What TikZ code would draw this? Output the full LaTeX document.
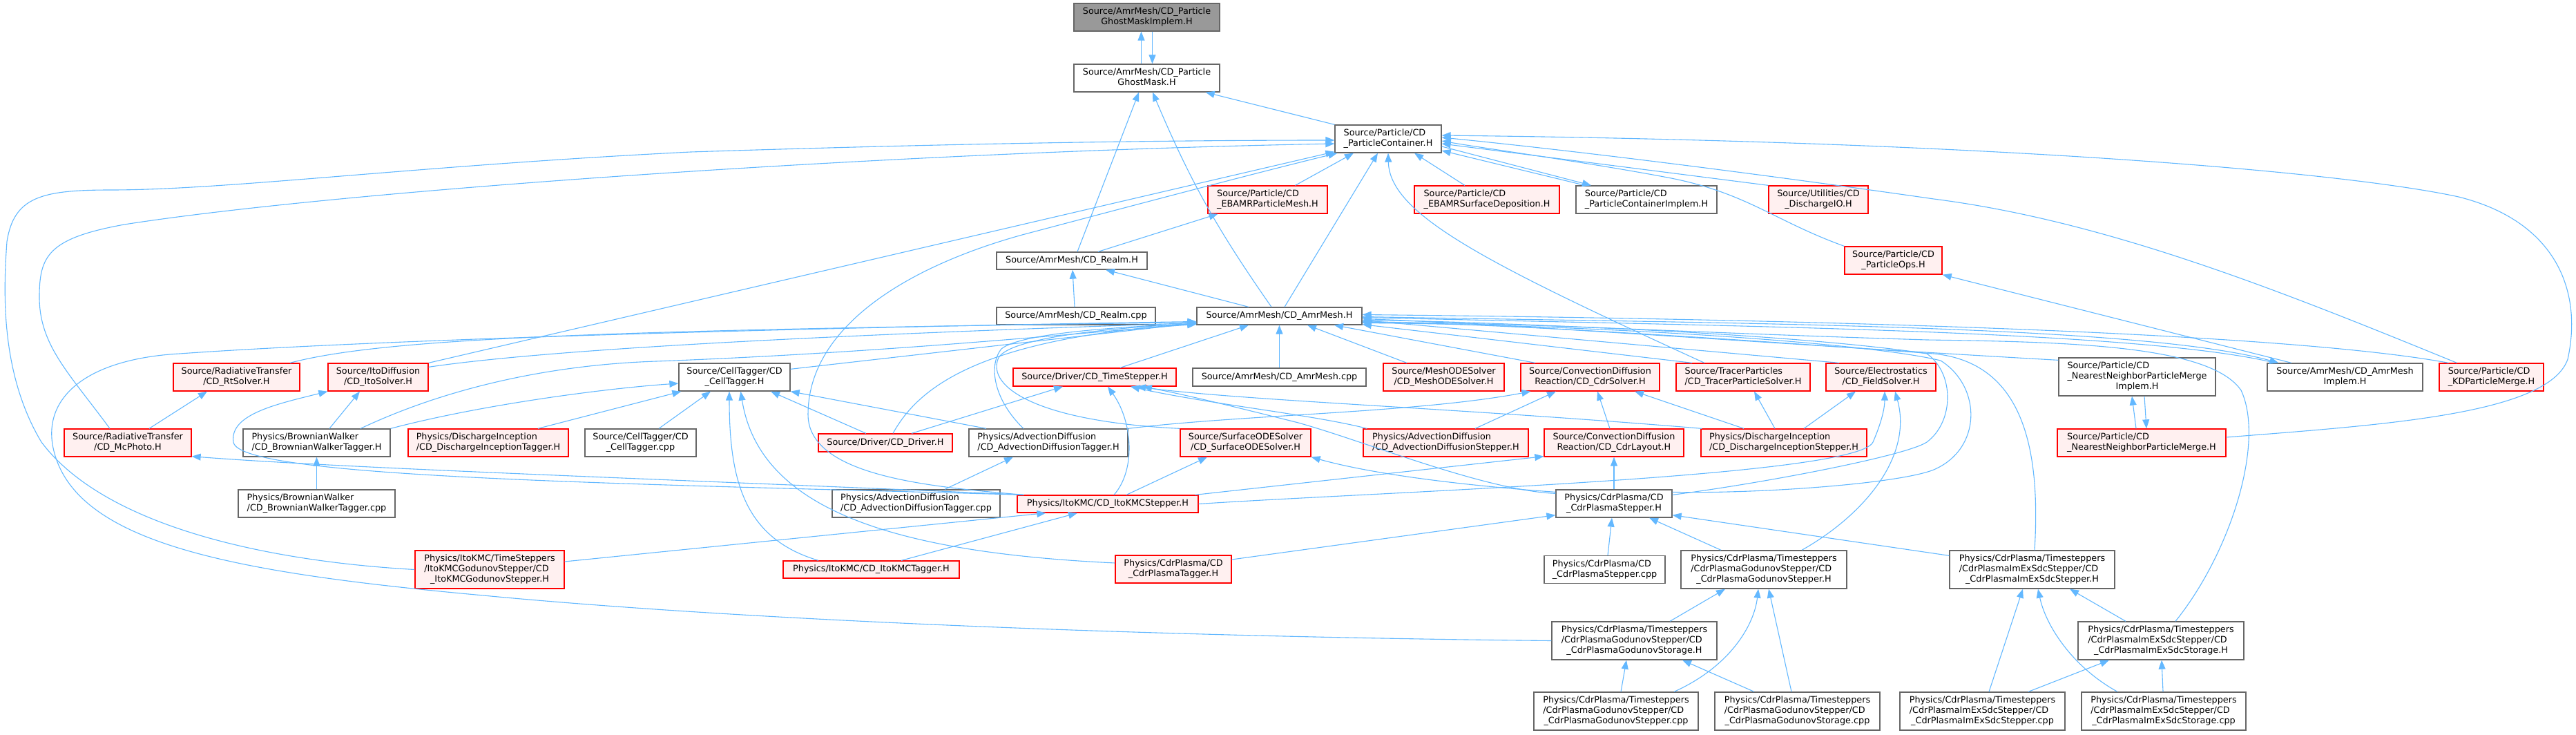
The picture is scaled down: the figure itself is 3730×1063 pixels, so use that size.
\documentclass[tikz,border=0pt]{standalone}
\usepackage{fontspec}
\newfontfamily\dxfont{DejaVu Sans}
\usetikzlibrary{arrows.meta}

\definecolor{edgeblue}{HTML}{63B8FF}
\definecolor{boxgray}{HTML}{666666}
\definecolor{rootfill}{HTML}{999999}
\definecolor{redfill}{HTML}{FFF0F0}
\definecolor{redline}{HTML}{FF0000}

% label: upper lines flush left, last line centred
\newcommand{\lbl}[2]{\begin{tabular}{@{}l@{}}#1\\\multicolumn{1}{@{}c@{}}{#2}\end{tabular}}

\tikzset{
  file/.style={draw=boxgray, fill=white, line width=1.3pt, inner sep=0pt,
    minimum height=40pt, font=\dxfont\fontsize{12.8}{15}\selectfont},
  hot/.style={file, draw=redline, fill=redfill},
  root/.style={file, fill=rootfill},
  one/.style={minimum height=25pt},
  three/.style={minimum height=55pt},
  inc/.style={draw=edgeblue, line width=1.1pt, -{Triangle[length=13pt,width=10pt]}},
}

\begin{document}
\begin{tikzpicture}[x=1pt,y=-1pt]
\useasboundingbox (0,0) rectangle (3730,1063);

% files
\node[root, minimum width=211pt] (gmi) at (1660.5,25) {\lbl{Source/AmrMesh/CD\_Particle}{GhostMaskImplem.H}};
\node[file, minimum width=211pt] (gm) at (1660.5,113) {\lbl{Source/AmrMesh/CD\_Particle}{GhostMask.H}};
\node[file, minimum width=154pt] (pc) at (2010,201) {\lbl{Source/Particle/CD}{\_ParticleContainer.H}};
\node[hot, minimum width=173pt] (ebpm) at (1835.5,289) {\lbl{Source/Particle/CD}{\_EBAMRParticleMesh.H}};
\node[hot, minimum width=210pt] (ebsd) at (2153,289) {\lbl{Source/Particle/CD}{\_EBAMRSurfaceDeposition.H}};
\node[file, minimum width=204pt] (pcimp) at (2384,289) {\lbl{Source/Particle/CD}{\_ParticleContainerImplem.H}};
\node[hot, minimum width=144pt] (dio) at (2633,289) {\lbl{Source/Utilities/CD}{\_DischargeIO.H}};
\node[hot, minimum width=141pt] (pops) at (2741.5,377) {\lbl{Source/Particle/CD}{\_ParticleOps.H}};
\node[file, one, minimum width=218pt] (realmh) at (1552,377.5) {Source/AmrMesh/CD\_Realm.H};
\node[file, one, minimum width=230pt] (realmcpp) at (1558,457.5) {Source/AmrMesh/CD\_Realm.cpp};
\node[file, one, minimum width=239pt] (amrh) at (1852.5,457.5) {Source/AmrMesh/CD\_AmrMesh.H};

\node[hot, minimum width=183pt] (rts) at (342.5,546) {\lbl{Source/RadiativeTransfer}{/CD\_RtSolver.H}};
\node[hot, minimum width=145pt] (itos) at (547.5,546) {\lbl{Source/ItoDiffusion}{/CD\_ItoSolver.H}};
\node[file, minimum width=161pt] (cth) at (1063.5,546) {\lbl{Source/CellTagger/CD}{\_CellTagger.H}};
\node[hot, one, minimum width=236pt, minimum height=26pt] (tsh) at (1585,546) {Source/Driver/CD\_TimeStepper.H};
\node[file, one, minimum width=251pt, minimum height=26pt] (amrcpp) at (1852.5,546) {Source/AmrMesh/CD\_AmrMesh.cpp};
\node[hot, minimum width=175pt] (meshode) at (2090.5,546) {\lbl{Source/MeshODESolver}{/CD\_MeshODESolver.H}};
\node[hot, minimum width=201pt] (cdrs) at (2302.5,546) {\lbl{Source/ConvectionDiffusion}{Reaction/CD\_CdrSolver.H}};
\node[hot, minimum width=194pt] (tracer) at (2524,546) {\lbl{Source/TracerParticles}{/CD\_TracerParticleSolver.H}};
\node[hot, minimum width=159pt] (field) at (2723.5,546) {\lbl{Source/Electrostatics}{/CD\_FieldSolver.H}};
\node[file, three, minimum width=227pt] (nnpmi) at (3094.5,545.5) {\lbl{Source/Particle/CD\\\_NearestNeighborParticleMerge}{Implem.H}};
\node[file, minimum width=225pt] (amrimp) at (3395.5,546) {\lbl{Source/AmrMesh/CD\_AmrMesh}{Implem.H}};
\node[hot, minimum width=151pt] (kd) at (3607.5,546) {\lbl{Source/Particle/CD}{\_KDParticleMerge.H}};

\node[hot, minimum width=184pt] (mcp) at (185,641) {\lbl{Source/RadiativeTransfer}{/CD\_McPhoto.H}};
\node[file, minimum width=213pt] (bwth) at (458.5,641) {\lbl{Physics/BrownianWalker}{/CD\_BrownianWalkerTagger.H}};
\node[hot, minimum width=232pt] (dit) at (707,641) {\lbl{Physics/DischargeInception}{/CD\_DischargeInceptionTagger.H}};
\node[file, minimum width=161pt] (ctcpp) at (927.5,641) {\lbl{Source/CellTagger/CD}{\_CellTagger.cpp}};
\node[hot, one, minimum width=194pt, minimum height=26pt] (drv) at (1282,641) {Source/Driver/CD\_Driver.H};
\node[file, minimum width=230pt] (adt) at (1518,641) {\lbl{Physics/AdvectionDiffusion}{/CD\_AdvectionDiffusionTagger.H}};
\node[hot, minimum width=189pt] (sode) at (1803.5,641) {\lbl{Source/SurfaceODESolver}{/CD\_SurfaceODESolver.H}};
\node[hot, minimum width=239pt] (ads) at (2093.5,641) {\lbl{Physics/AdvectionDiffusion}{/CD\_AdvectionDiffusionStepper.H}};
\node[hot, minimum width=202pt] (cdrl) at (2337,641) {\lbl{Source/ConvectionDiffusion}{Reaction/CD\_CdrLayout.H}};
\node[hot, minimum width=240pt] (dis) at (2583,641) {\lbl{Physics/DischargeInception}{/CD\_DischargeInceptionStepper.H}};
\node[hot, minimum width=244pt] (nnpm) at (3101,641) {\lbl{Source/Particle/CD}{\_NearestNeighborParticleMerge.H}};

\node[file, minimum width=227pt] (bwtcpp) at (458.5,729) {\lbl{Physics/BrownianWalker}{/CD\_BrownianWalkerTagger.cpp}};
\node[file, minimum width=243pt] (adtcpp) at (1326.5,729) {\lbl{Physics/AdvectionDiffusion}{/CD\_AdvectionDiffusionTagger.cpp}};
\node[hot, one, minimum width=262pt] (iks) at (1604,729.5) {Physics/ItoKMC/CD\_ItoKMCStepper.H};
\node[file, minimum width=168pt] (cps) at (2337,729) {\lbl{Physics/CdrPlasma/CD}{\_CdrPlasmaStepper.H}};

\node[hot, three, minimum width=216pt] (ikgs) at (709,824.5) {\lbl{Physics/ItoKMC/TimeSteppers\\/ItoKMCGodunovStepper/CD}{\_ItoKMCGodunovStepper.H}};
\node[hot, one, minimum width=255pt] (ikt) at (1261.5,824.5) {Physics/ItoKMC/CD\_ItoKMCTagger.H};
\node[hot, minimum width=168pt] (cpt) at (1699,824) {\lbl{Physics/CdrPlasma/CD}{\_CdrPlasmaTagger.H}};
\node[file, minimum width=175pt] (cpscpp) at (2323.5,824.5) {\lbl{Physics/CdrPlasma/CD}{\_CdrPlasmaStepper.cpp}};
\node[file, three, minimum width=240pt] (gsh) at (2554,824.5) {\lbl{Physics/CdrPlasma/Timesteppers\\/CdrPlasmaGodunovStepper/CD}{\_CdrPlasmaGodunovStepper.H}};
\node[file, three, minimum width=239pt] (ish) at (2942.5,824.5) {\lbl{Physics/CdrPlasma/Timesteppers\\/CdrPlasmaImExSdcStepper/CD}{\_CdrPlasmaImExSdcStepper.H}};

\node[file, three, minimum width=239pt] (gsto) at (2366.5,927.5) {\lbl{Physics/CdrPlasma/Timesteppers\\/CdrPlasmaGodunovStepper/CD}{\_CdrPlasmaGodunovStorage.H}};
\node[file, three, minimum width=240pt] (isto) at (3129,927.5) {\lbl{Physics/CdrPlasma/Timesteppers\\/CdrPlasmaImExSdcStepper/CD}{\_CdrPlasmaImExSdcStorage.H}};

\node[file, three, minimum width=238pt] (gscpp) at (2340,1029.5) {\lbl{Physics/CdrPlasma/Timesteppers\\/CdrPlasmaGodunovStepper/CD}{\_CdrPlasmaGodunovStepper.cpp}};
\node[file, three, minimum width=239pt] (gstocpp) at (2602.5,1029.5) {\lbl{Physics/CdrPlasma/Timesteppers\\/CdrPlasmaGodunovStepper/CD}{\_CdrPlasmaGodunovStorage.cpp}};
\node[file, three, minimum width=239pt] (iscpp) at (2870.5,1029.5) {\lbl{Physics/CdrPlasma/Timesteppers\\/CdrPlasmaImExSdcStepper/CD}{\_CdrPlasmaImExSdcStepper.cpp}};
\node[file, three, minimum width=238pt] (istocpp) at (3133,1029.5) {\lbl{Physics/CdrPlasma/Timesteppers\\/CdrPlasmaImExSdcStepper/CD}{\_CdrPlasmaImExSdcStorage.cpp}};

% top of the graph
\draw[inc] ([xshift=-8pt]gm.north) -- ([xshift=-8pt]gmi.south);
\draw[inc] ([xshift=8pt]gmi.south) -- ([xshift=8pt]gm.north);
\draw[inc] ([xshift=8pt]realmh.north) -- ([xshift=-11.5pt]gm.south);
\draw[inc] ([xshift=-11.5pt]amrh.north) to[bend left=6] ([xshift=8.5pt]gm.south);
\draw[inc] (pc.north west) -- ([xshift=-21pt]gm.south east);

% into the particle container
\draw[inc] (ikgs.west) .. controls (380,812) and (150,760) .. (60,640) .. controls (0,540) and (5,420) .. (10,350) .. controls (20,285) and (60,275) .. (160,275) .. controls (330,275) and (600,240) .. (1000,220) .. controls (1400,207) and (1700,203) .. ([yshift=-2pt]pc.west);
\draw[inc] ([xshift=-26pt]mcp.north) .. controls (100,540) and (57,500) .. (57,430) .. controls (57,370) and (70,345) .. (180,325) .. controls (500,275) and (1300,220) .. ([yshift=-7pt]pc.west);
\draw[inc] (itos.north east) -- ([yshift=2pt]pc.south west);
\draw[inc] ([xshift=10pt]iks.north west) .. controls (1350,705) and (1170,690) .. (1170,600) .. controls (1170,480) and (1300,390) .. (1480,340) .. controls (1650,295) and (1820,250) .. ([xshift=4pt]pc.south west);
\draw[inc] ([xshift=40pt]ebpm.north) -- ([xshift=-50pt]pc.south);
\draw[inc] ([xshift=7.5pt]amrh.north) -- ([xshift=-15pt]pc.south);
\draw[inc] ([xshift=-56pt]tracer.north) .. controls (2150,380) and (2012,310) .. (pc.south);
\draw[inc] ([xshift=-32pt]ebsd.north) -- ([xshift=38pt]pc.south);
\draw[inc] ([xshift=-89pt]pcimp.north) -- ([yshift=-17pt]pc.east);
\draw[inc] ([yshift=-11pt]pc.east) -- ([xshift=-80pt]pcimp.north);
\draw[inc] (dio.north west) -- ([yshift=-7pt]pc.east);
\draw[inc] (pops.north west) .. controls (2570,320) and (2530,280) .. (2420,258) .. controls (2300,235) and (2150,215) .. ([yshift=-3pt]pc.east);
\draw[inc] ([xshift=-50pt]kd.north) .. controls (3300,420) and (3050,320) .. (2800,288) .. controls (2500,245) and (2250,215) .. ([yshift=2pt]pc.east);
\draw[inc] ([yshift=8pt]nnpm.east) .. controls (3450,615) and (3690,600) .. (3718,520) .. controls (3740,420) and (3700,320) .. (3560,285) .. controls (3400,250) and (2900,205) .. ([yshift=5pt]pc.east);

% realm and mesh
\draw[inc] ([xshift=38pt]realmh.north) -- ([xshift=-72pt]ebpm.south);
\draw[inc] ([xshift=-2pt]realmcpp.north) -- ([xshift=1pt]realmh.south);
\draw[inc] ([xshift=-44.5pt]amrh.north) -- ([xshift=49pt]realmh.south);
\draw[inc] ([xshift=-77.5pt]amrimp.north) -- (pops.south east);

% into CD_AmrMesh.H from below
\draw[inc] ([xshift=37pt]tsh.north) -- ([xshift=-44.5pt]amrh.south);
\draw[inc] (amrcpp.north) -- (amrh.south);
\draw[inc] ([xshift=-53.5pt]meshode.north) -- ([xshift=40.5pt]amrh.south);
\draw[inc] ([xshift=-79.5pt]cdrs.north) -- ([xshift=79.5pt]amrh.south);
\draw[inc] ([xshift=-74pt]tracer.north) -- ([yshift=1pt]amrh.south east);
\draw[inc] ([xshift=-60.5pt]field.north) -- ([yshift=-6pt]amrh.east);

% into CD_AmrMesh.H from the right
\draw[inc] ([yshift=-4pt]nnpmi.north west) .. controls (2600,500) and (2200,470) .. ([yshift=-4pt]amrh.east);
\draw[inc] ([yshift=-1pt]amrh.east) .. controls (2500,468) and (3100,470) .. ([xshift=17pt]amrimp.north west);
\draw[inc] ([xshift=12pt]amrimp.north west) .. controls (3100,478) and (2500,472) .. ([yshift=-2pt]amrh.east);
\draw[inc] ([xshift=-62pt]kd.north) .. controls (3300,480) and (2600,462) .. ([yshift=2pt]amrh.east);
\draw[inc] ([xshift=3.5pt]ish.north) .. controls (2955,650) and (2930,525) .. (2800,512) .. controls (2500,490) and (2200,470) .. ([yshift=-8pt]amrh.east);
\draw[inc] ([xshift=21pt]isto.north) .. controls (3230,800) and (3280,640) .. (3245,565) .. controls (3200,500) and (3000,495) .. (2790,492) .. controls (2400,480) and (2150,465) .. ([yshift=-6pt]amrh.east);
\draw[inc] ([yshift=-4pt]cps.north east) .. controls (2550,715) and (2750,700) .. (2800,680) .. controls (2870,650) and (2870,560) .. (2810,522) .. controls (2700,495) and (2300,470) .. ([yshift=-10pt]amrh.east);
\draw[inc] ([yshift=-8pt]cps.north east) .. controls (2550,700) and (2760,660) .. (2790,640) .. controls (2830,610) and (2830,540) .. (2790,512) .. controls (2650,490) and (2300,468) .. ([yshift=-9pt]amrh.east);

% into CD_AmrMesh.H from the left
\draw[inc] ([xshift=77.5pt]rts.north) .. controls (560,488) and (900,478) .. ([yshift=-9pt]amrh.west);
\draw[inc] ([yshift=-6pt]itos.north east) .. controls (800,505) and (1200,485) .. ([yshift=-10pt]amrh.west);
\draw[inc] ([xshift=63.5pt]bwth.north) .. controls (650,560) and (800,528) .. (950,523) .. controls (1300,510) and (1600,478) .. ([yshift=-12pt]amrh.west);
\draw[inc] ([yshift=-9pt]cth.north east) -- ([yshift=-10pt]amrh.west);
\draw[inc] ([xshift=11pt]drv.north) .. controls (1330,560) and (1420,490) .. ([yshift=-11pt]amrh.west);
\draw[inc] ([xshift=-36pt]adt.north) .. controls (1440,580) and (1430,530) .. (1450,505) .. controls (1480,480) and (1650,472) .. ([yshift=-11pt]amrh.west);
\draw[inc] (sode.north west) .. controls (1500,610) and (1430,560) .. (1445,520) .. controls (1455,490) and (1600,475) .. ([yshift=-11pt]amrh.west);
\draw[inc] (gsto.west) .. controls (1700,922) and (1100,900) .. (700,862) .. controls (350,830) and (120,790) .. (80,660) .. controls (55,580) and (120,520) .. (260,512) .. controls (600,488) and (1300,472) .. ([yshift=-8pt]amrh.west);

% cell tagger and solvers on the left
\draw[inc] (bwth.north east) .. controls (700,585) and (880,562) .. ([yshift=-9pt]cth.west);
\draw[inc] ([xshift=72pt]dit.north) -- ([xshift=4pt]cth.south west);
\draw[inc] ([xshift=26.5pt]ctcpp.north) -- ([xshift=-34.5pt]cth.south);
\draw[inc] ([xshift=-76.5pt]ikt.north) .. controls (1080,780) and (1056,700) .. ([xshift=-7.5pt]cth.south);
\draw[inc] ([yshift=9pt]cpt.west) .. controls (1300,800) and (1100,740) .. ([xshift=9pt]cth.south);
\draw[inc] ([xshift=-28pt]drv.north) -- ([xshift=52.5pt]cth.south);
\draw[inc] ([xshift=-90pt]adt.north) -- (cth.south east);
\draw[inc] ([xshift=18.5pt]bwth.north) -- ([xshift=-26.5pt]itos.south);
\draw[inc] ([xshift=10pt]iks.north west) .. controls (900,700) and (345,692) .. (338,640) .. controls (332,600) and (400,585) .. (itos.south west);
\draw[inc] ([xshift=10pt]iks.north west) .. controls (1000,695) and (500,678) .. ([yshift=1pt]mcp.south east);
\draw[inc] ([xshift=31pt]mcp.north) -- ([xshift=-42.5pt]rts.south);
\draw[inc] (bwtcpp.north) -- (bwth.south);

% time stepper and solvers
\draw[inc] ([xshift=38pt]drv.north) -- ([xshift=-46pt]tsh.south);
\draw[inc] ([xshift=9pt]iks.north) .. controls (1645,680) and (1640,610) .. ([xshift=19pt]tsh.south);
\draw[inc] ([xshift=6pt]ads.north west) .. controls (1900,600) and (1750,585) .. ([xshift=52pt]tsh.south);
\draw[inc] ([xshift=2pt]dis.north west) .. controls (2100,590) and (1800,580) .. ([xshift=61pt]tsh.south);
\draw[inc] ([yshift=-6pt]cps.north west) .. controls (2150,710) and (1980,640) .. (1880,612) .. controls (1800,592) and (1720,572) .. ([xshift=70pt]tsh.south);
\draw[inc] (adt.north east) .. controls (1800,600) and (2050,598) .. ([xshift=15pt]cdrs.south west);
\draw[inc] ([xshift=42.5pt]ads.north) -- ([xshift=-49.5pt]cdrs.south);
\draw[inc] ([xshift=-6pt]cdrl.north) -- ([xshift=10.5pt]cdrs.south);
\draw[inc] ([xshift=-58pt]dis.north) -- ([xshift=64.5pt]cdrs.south);
\draw[inc] ([xshift=-13pt]dis.north) -- ([xshift=16pt]tracer.south);
\draw[inc] ([xshift=29pt]dis.north) -- ([xshift=-36.5pt]field.south);
\draw[inc] (cps.north) -- (cdrl.south);
\draw[inc] ([xshift=-5pt]iks.north east) -- ([yshift=1pt]cdrl.south west);
\draw[inc] ([yshift=-4pt]cps.north west) .. controls (2150,705) and (2000,690) .. (sode.south east);
\draw[inc] ([xshift=27pt]iks.north) -- ([xshift=-55.5pt]sode.south);
\draw[inc] ([xshift=41.5pt]adtcpp.north) -- ([xshift=-51pt]adt.south);
\draw[inc] (iks.east) .. controls (2000,712) and (2690,690) .. (2712,640) .. controls (2725,610) and (2729,590) .. ([xshift=5.5pt]field.south);
\draw[inc] ([xshift=55pt]gsh.north) .. controls (2700,745) and (2770,660) .. ([xshift=20.5pt]field.south);

% ItoKMC and CdrPlasma steppers
\draw[inc] ([yshift=11.5pt]ikgs.east) -- ([xshift=42pt]iks.south west);
\draw[inc] ([xshift=43.5pt]ikt.north) -- ([xshift=-44pt]iks.south);
\draw[inc] ([yshift=14pt]cpt.east) -- ([yshift=4pt]cps.south west);
\draw[inc] ([xshift=4.5pt]cpscpp.north) -- ([xshift=-3pt]cps.south);
\draw[inc] ([xshift=-62pt]gsh.north) -- ([xshift=51pt]cps.south);
\draw[inc] ([yshift=-8pt]ish.north west) -- ([yshift=4pt]cps.south east);
\draw[inc] ([xshift=51.5pt]gsto.north) -- ([xshift=-56pt]gsh.south);
\draw[inc] ([xshift=7pt]gscpp.north) -- ([xshift=-11.5pt]gsto.south);
\draw[inc] ([xshift=84pt]gscpp.north) .. controls (2505,965) and (2540,905) .. ([xshift=-8pt]gsh.south);
\draw[inc] ([xshift=-62.5pt]gstocpp.north) -- ([xshift=69.5pt]gsto.south);
\draw[inc] ([xshift=-8.5pt]gstocpp.north) -- ([xshift=7pt]gsh.south);
\draw[inc] ([xshift=-51pt]isto.north) -- ([xshift=54.5pt]ish.south);
\draw[inc] ([xshift=9.5pt]iscpp.north) -- ([xshift=-13.5pt]ish.south);
\draw[inc] ([xshift=66.5pt]iscpp.north) -- ([xshift=-75pt]isto.south);
\draw[inc] ([xshift=-67pt]istocpp.north) .. controls (3000,965) and (2962,905) .. ([xshift=8.5pt]ish.south);
\draw[inc] ([xshift=-1pt]istocpp.north) -- ([xshift=1pt]isto.south);
\draw[inc] ([xshift=-8pt]nnpm.north) -- ([xshift=-7.5pt]nnpmi.south);
\draw[inc] ([xshift=10.5pt]nnpmi.south) -- ([xshift=7pt]nnpm.north);
\end{tikzpicture}
\end{document}
